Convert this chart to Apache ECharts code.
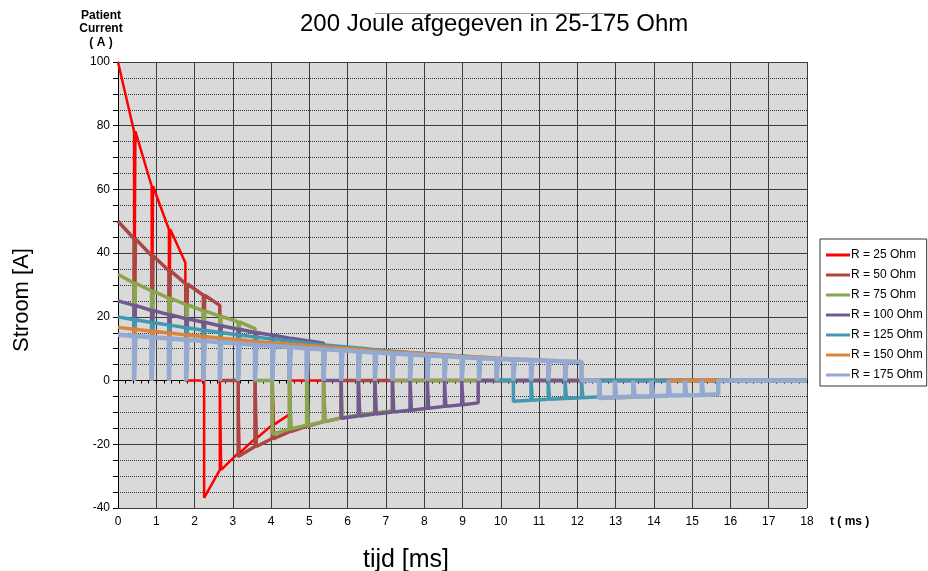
<!DOCTYPE html>
<html>
<head>
<meta charset="utf-8">
<script src="https://cdn.jsdelivr.net/npm/echarts@6/dist/echarts.min.js"></script>
<style>
html,body{margin:0;padding:0;background:#fff;}
#chart{width:928px;height:571px;}
</style>
</head>
<body>
<div id="chart"></div>
<script>
// ---------- DATA ----------
const TITLE = '200 Joule afgegeven in 25-175 Ohm';
const SERIES_NAMES = ['R = 25 Ohm','R = 50 Ohm','R = 75 Ohm','R = 100 Ohm','R = 125 Ohm','R = 150 Ohm','R = 175 Ohm'];
const X_TICKS = [0,1,2,3,4,5,6,7,8,9,10,11,12,13,14,15,16,17,18];
const Y_TICKS = [-40,-20,0,20,40,60,80,100];
const T_END = 18;

// [time ms, current A] at phase start, at each chop, and at phase end
const R25_POS  = [[0,100],[0.42,78.2],[0.88,61],[1.33,47.5],[1.76,37]];
const R25_NEG  = [[2.25,-36.8],[2.66,-28],[3.14,-22.8],[3.58,-18.2],[4.03,-13.9],[4.48,-10.6]];

const R50_POS  = [[0,50],[0.42,44.5],[0.88,39.2],[1.33,34.5],[1.78,30.3],[2.23,26.8],[2.66,23.6]];
const R50_NEG  = [[3.14,-23.8],[3.58,-20.7],[4.03,-18.2],[4.48,-16],[4.93,-14.3],[5.37,-12.9],[5.83,-11.7]];

const R75_POS  = [[0,33.3],[0.42,30.6],[0.88,28.1],[1.33,25.9],[1.78,23.8],[2.23,21.9],[2.66,20.2],[3.14,18.4],[3.58,16.3]];
const R75_NEG  = [[4.03,-16.8],[4.48,-15.2],[4.93,-14.0],[5.37,-12.9],[5.83,-11.7],[6.28,-10.8],[6.71,-10.1],[7.17,-9.5]];

const R100_POS = [[0,25],[0.42,23.6],[0.88,22.0],[1.33,20.7],[1.78,19.4],[2.23,18.3],[2.66,17.2],[3.14,16.1],[3.58,15.1],[4.03,14.2],[4.48,13.3],[4.93,12.5],[5.37,11.7]];
const R100_NEG = [[5.83,-11.8],[6.28,-11.1],[6.71,-10.5],[7.17,-9.9],[7.63,-9.3],[8.08,-8.7],[8.53,-8.1],[8.98,-7.6],[9.41,-7.0]];

const R125_POS = [[0,20],[0.42,19.1],[0.88,18.2],[1.33,17.4],[1.78,16.6],[2.23,15.8],[2.66,15.1],[3.14,14.3],[3.58,13.7],[4.03,13.0],[4.48,12.4],[4.93,11.8],[5.37,11.2],[5.83,10.7],[6.28,10.2],[6.71,9.7],[7.17,9.2],[7.63,8.8],[8.08,8.4],[8.53,8.0],[8.98,7.6],[9.43,7.3],[9.89,6.9]];
const R125_NEG = [[10.33,-6.5],[10.79,-6.2],[11.24,-5.9],[11.68,-5.6],[12.11,-5.4],[12.59,-5.1]];

const R150_POS = [[0,16.7],[0.42,16.1],[0.88,15.5],[1.33,14.9],[1.78,14.3],[2.23,13.8],[2.66,13.3],[3.14,12.8],[3.58,12.3],[4.03,11.8],[4.48,11.4],[4.93,11.0],[5.37,10.6],[5.83,10.2],[6.28,9.8],[6.71,9.4],[7.17,9.0],[7.63,8.7],[8.08,8.4],[8.53,8.0],[8.98,7.7],[9.43,7.4],[9.89,7.1],[10.33,6.8],[10.79,6.6],[11.24,6.3],[11.68,6.1],[12.11,5.9]];
const R150_NEG = [[12.57,-5.6],[12.98,-5.4],[13.46,-5.2],[13.94,-5.0],[14.38,-4.8]];

const R175_POS = [[0,14.4],[0.42,14.0],[0.88,13.6],[1.33,13.2],[1.78,12.8],[2.23,12.4],[2.66,12.0],[3.14,11.6],[3.58,11.2],[4.03,10.9],[4.48,10.5],[4.93,10.1],[5.37,9.8],[5.83,9.5],[6.28,9.1],[6.71,8.8],[7.17,8.5],[7.63,8.2],[8.08,7.9],[8.53,7.6],[8.98,7.3],[9.43,7.0],[9.89,6.8],[10.33,6.6],[10.79,6.4],[11.24,6.2],[11.68,6.0],[12.11,5.8]];
const R175_NEG = [[12.57,-5.4],[12.98,-5.2],[13.46,-5.0],[13.94,-4.9],[14.38,-4.7],[14.81,-4.6],[15.25,-4.5],[15.68,-4.3]];

const PHASES = [
  [R25_POS, R25_NEG], [R50_POS, R50_NEG], [R75_POS, R75_NEG], [R100_POS, R100_NEG],
  [R125_POS, R125_NEG], [R150_POS, R150_NEG], [R175_POS, R175_NEG]
];

// ---------- styles ----------
const COLORS = ['#FF0000','#AA4643','#89A54E','#71588F','#4198AF','#DB843D','#93A9CF'];
const WIDTHS = [2.5, 3.5, 3.5, 3.5, 3.5, 3.5, 4.5];
const CHOP_GAP = 0.035; // ms, brief off-time at each chop
const FONT = '"Liberation Sans", Arial, sans-serif';

function buildPath(pos, neg) {
  const pts = [];
  function phase(nodes) {
    nodes.forEach(([t, v], i) => {
      if (i === 0) {
        if (pts.length) pts.push([t, 0]);
        pts.push([t, v]);
      } else if (i < nodes.length - 1) {
        pts.push([t, v], [t, 0], [t + CHOP_GAP, 0], [t + CHOP_GAP, v]);
      } else {
        pts.push([t, v], [t, 0]);
      }
    });
  }
  phase(pos);
  phase(neg);
  pts.push([T_END, 0]);
  return pts;
}

const series = SERIES_NAMES.map((name, i) => ({
  name,
  type: 'line',
  data: buildPath(PHASES[i][0], PHASES[i][1]),
  symbol: 'none',
  showSymbol: false,
  lineStyle: { color: COLORS[i], width: WIDTHS[i] },
  itemStyle: { color: COLORS[i] },
  xAxisIndex: 0,
  yAxisIndex: 0,
  z: 3 + i
}));

const chart = echarts.init(document.getElementById('chart'), null, { renderer: 'canvas' });
chart.setOption({
  animation: false,
  backgroundColor: '#ffffff',
  textStyle: { fontFamily: FONT },
  title: {
    text: TITLE,
    left: 295,
    top: 7,
    textStyle: { fontFamily: FONT, fontSize: 24, fontWeight: 'normal', color: '#000' }
  },
  legend: {
    orient: 'vertical',
    left: 820,
    top: 239,
    padding: [9, 4, 4, 6],
    icon: 'rect',
    itemWidth: 24,
    itemHeight: 3,
    itemGap: 6,
    backgroundColor: '#fff',
    borderColor: '#333',
    borderWidth: 1,
    borderRadius: 0,
    textStyle: { fontFamily: FONT, fontSize: 12, color: '#000', lineHeight: 14, padding: [0, 0, 0, -4] },
    data: SERIES_NAMES
  },
  grid: { left: 118, right: 121, top: 62, bottom: 63, show: true, backgroundColor: '#d9d9d9', borderWidth: 0 },
  xAxis: [
    {
      type: 'value', min: X_TICKS[0], max: X_TICKS[X_TICKS.length - 1], interval: 1,
      axisLine: { show: true, onZero: true, lineStyle: { color: '#000', width: 1 } },
      axisTick: { show: true, length: 3, lineStyle: { color: '#000' } },
      minorTick: { show: true, splitNumber: 5, length: 3, lineStyle: { color: '#000' } },
      axisLabel: { show: false },
      splitLine: { show: true, lineStyle: { color: '#3c3c3c', width: 1 } },
      minorSplitLine: { show: false }
    },
    {
      type: 'value', min: X_TICKS[0], max: X_TICKS[X_TICKS.length - 1], interval: 1,
      position: 'bottom',
      axisLine: { show: false, onZero: false },
      axisTick: { show: false },
      splitLine: { show: false },
      axisLabel: { show: true, fontSize: 12, color: '#000', margin: 8, fontFamily: FONT },
      name: 't ( ms )',
      nameLocation: 'end',
      nameGap: 23,
      nameTextStyle: { fontFamily: FONT, fontSize: 12, fontWeight: 'bold', color: '#000', verticalAlign: 'top', padding: [8, 0, 0, 0] }
    }
  ],
  yAxis: {
    type: 'value', min: Y_TICKS[0], max: Y_TICKS[Y_TICKS.length - 1], interval: 20,
    axisLine: { show: true, lineStyle: { color: '#000', width: 1 } },
    axisTick: { show: true, length: 5, lineStyle: { color: '#000' } },
    minorTick: { show: true, splitNumber: 4, length: 5, lineStyle: { color: '#000' } },
    axisLabel: { fontSize: 12, color: '#000', margin: 8, fontFamily: FONT },
    splitLine: { show: true, lineStyle: { color: '#3c3c3c', width: 1 } },
    minorSplitLine: { show: true, lineStyle: { color: '#333', width: 1, type: [1, 1] } },
    name: 'Patient\nCurrent\n( A )',
    nameLocation: 'end',
    nameGap: 13,
    nameTextStyle: { fontFamily: FONT, fontSize: 12, fontWeight: 'bold', color: '#000', lineHeight: 13.5, align: 'center', verticalAlign: 'bottom', padding: [0, 34, 0, 0] }
  },
  graphic: [
    { type: 'line', shape: { x1: 375, y1: 13.5, x2: 613, y2: 13.5 }, style: { stroke: '#999', lineWidth: 1 }, silent: true },
    { type: 'text', x: 22, y: 300, rotation: Math.PI / 2,
      style: { text: 'Stroom [A]', font: '22px ' + FONT, fill: '#000', align: 'center', verticalAlign: 'middle' } },
    { type: 'text', x: 406, y: 560,
      style: { text: 'tijd [ms]', font: '25px ' + FONT, fill: '#000', align: 'center', verticalAlign: 'middle' } }
  ],
  series
});
</script>
</body>
</html>
